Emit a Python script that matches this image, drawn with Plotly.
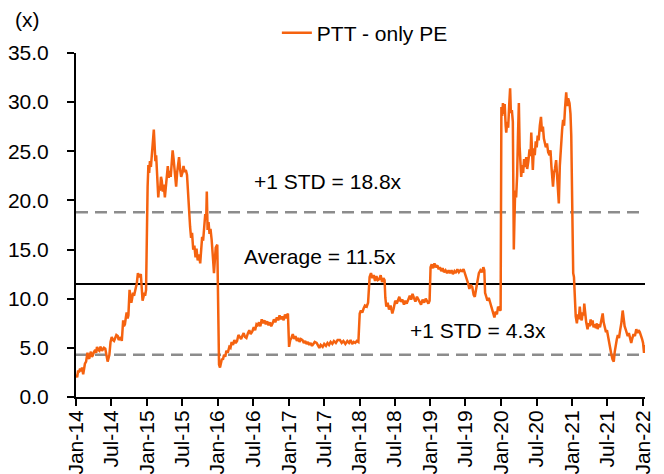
import plotly.graph_objects as go

# ---------------- data ----------------
dates_2014 = ["2014-01-02","2014-01-07","2014-01-12","2014-01-16","2014-01-22","2014-01-27","2014-02-01","2014-02-07","2014-02-12","2014-02-16","2014-02-22","2014-03-01","2014-03-06","2014-03-10","2014-03-15","2014-03-19","2014-03-24","2014-03-28","2014-04-04","2014-04-10","2014-04-15","2014-04-19","2014-04-25","2014-05-01","2014-05-06","2014-05-10","2014-05-15","2014-05-19","2014-05-25","2014-06-01","2014-06-07","2014-06-13","2014-06-17","2014-06-22","2014-06-28","2014-07-04","2014-07-10","2014-07-16","2014-07-22","2014-07-28","2014-08-04","2014-08-09","2014-08-13","2014-08-19","2014-08-25","2014-09-01","2014-09-05","2014-09-10","2014-09-15","2014-09-19","2014-09-24","2014-09-28","2014-10-04","2014-10-09","2014-10-13","2014-10-16","2014-10-22","2014-10-27","2014-11-01","2014-11-06","2014-11-10","2014-11-16","2014-11-21","2014-11-25","2014-12-01","2014-12-04","2014-12-07","2014-12-10","2014-12-15","2014-12-19","2014-12-23","2014-12-28"]
pe_2014 = [2.3,2.0,2.7,2.5,2.9,2.6,3.0,2.3,2.9,3.4,3.6,4.5,4.0,3.9,4.4,4.6,4.1,4.2,4.6,4.8,4.5,5.1,4.8,4.7,5.1,5.0,4.7,4.8,5.0,4.9,4.2,3.6,3.9,4.3,5.6,6.1,5.8,5.7,6.0,6.3,6.2,5.8,5.9,6.1,5.7,7.8,7.2,7.4,8.1,8.6,8.0,8.3,10.9,10.2,9.6,9.9,10.6,10.3,10.9,11.2,11.5,12.6,12.2,12.3,12.5,11.6,10.5,9.8,10.2,10.6,10.3,10.9]

dates_2015 = ["2015-01-05","2015-01-09","2015-01-13","2015-01-17","2015-01-22","2015-01-27","2015-02-01","2015-02-06","2015-02-10","2015-02-14","2015-02-18","2015-02-22","2015-03-01","2015-03-05","2015-03-10","2015-03-15","2015-03-19","2015-03-24","2015-03-29","2015-04-04","2015-04-09","2015-04-14","2015-04-19","2015-04-24","2015-04-29","2015-05-04","2015-05-09","2015-05-14","2015-05-19","2015-05-25","2015-06-01","2015-06-06","2015-06-11","2015-06-16","2015-06-21","2015-06-27","2015-07-03","2015-07-09","2015-07-15","2015-07-21","2015-07-27","2015-08-02","2015-08-07","2015-08-12","2015-08-17","2015-08-22","2015-08-28","2015-09-03","2015-09-09","2015-09-14","2015-09-20","2015-09-27","2015-10-03","2015-10-08","2015-10-13","2015-10-18","2015-10-24","2015-10-29","2015-11-03","2015-11-06","2015-11-10","2015-11-15","2015-11-20","2015-11-25","2015-12-01","2015-12-05","2015-12-09","2015-12-13","2015-12-17","2015-12-22","2015-12-30"]
pe_2015 = [21.4,23.6,22.8,24.0,23.4,24.8,25.3,27.2,25.6,24.0,24.6,22.2,20.3,21.4,21.0,22.4,22.0,20.9,21.6,20.3,21.2,22.6,23.5,22.3,23.0,22.4,23.8,25.1,24.2,22.5,21.4,22.8,23.9,24.4,23.2,22.4,22.8,23.5,22.9,23.1,22.6,20.0,19.2,17.3,16.2,16.7,15.0,15.4,14.2,15.1,13.9,14.5,13.6,14.8,16.3,15.9,17.4,18.6,18.2,20.9,17.0,17.8,16.6,17.1,16.0,15.2,13.8,12.6,14.0,15.2,15.5]

dates_2016 = ["2016-01-04","2016-01-08","2016-01-13","2016-01-18","2016-01-23","2016-01-28","2016-02-03","2016-02-09","2016-02-15","2016-02-22","2016-03-01","2016-03-07","2016-03-13","2016-03-20","2016-03-27","2016-04-03","2016-04-10","2016-04-17","2016-04-24","2016-05-01","2016-05-07","2016-05-14","2016-05-21","2016-05-28","2016-06-05","2016-06-12","2016-06-19","2016-06-28","2016-07-05","2016-07-12","2016-07-19","2016-07-25","2016-08-01","2016-08-08","2016-08-15","2016-08-22","2016-08-29","2016-09-05","2016-09-12","2016-09-19","2016-09-26","2016-10-03","2016-10-10","2016-10-17","2016-10-24","2016-11-01","2016-11-08","2016-11-15","2016-11-22","2016-11-29","2016-12-06","2016-12-13","2016-12-20","2016-12-28"]
pe_2016 = [3.8,3.3,3.0,3.4,3.9,3.8,4.3,4.1,4.7,4.5,5.1,5.0,5.6,5.3,5.8,5.5,5.7,6.3,6.1,5.9,6.2,6.5,6.1,6.0,6.5,6.8,6.4,6.7,7.1,6.8,7.4,7.3,7.6,7.2,7.9,7.5,7.8,7.4,7.7,7.3,7.6,7.2,7.5,7.9,7.6,8.1,7.8,8.3,7.9,8.2,7.8,8.4,8.0,8.5]

dates_2017 = ["2017-01-03","2017-01-09","2017-01-15","2017-01-22","2017-01-29","2017-02-05","2017-02-12","2017-02-19","2017-02-26","2017-03-05","2017-03-13","2017-03-20","2017-03-27","2017-04-03","2017-04-10","2017-04-17","2017-04-24","2017-05-01","2017-05-08","2017-05-15","2017-05-25","2017-06-01","2017-06-08","2017-06-15","2017-06-25","2017-07-03","2017-07-12","2017-07-20","2017-07-28","2017-08-05","2017-08-14","2017-08-22","2017-09-01","2017-09-10","2017-09-22","2017-10-01","2017-10-10","2017-10-20","2017-10-30","2017-11-08","2017-11-16","2017-11-24","2017-12-02","2017-12-10","2017-12-18","2017-12-26"]
pe_2017 = [5.1,5.8,6.0,6.4,5.9,6.2,5.7,6.0,5.6,5.9,5.8,5.5,5.7,5.4,5.6,5.3,5.5,5.2,5.4,5.6,5.5,5.2,5.0,5.3,5.1,5.4,5.2,5.5,5.3,5.6,5.4,5.7,5.5,5.8,5.8,5.5,5.7,5.4,5.7,5.5,5.8,5.4,5.6,5.5,5.7,5.6]

dates_2018 = ["2018-01-02","2018-01-08","2018-01-15","2018-01-22","2018-01-29","2018-02-07","2018-02-14","2018-02-22","2018-03-01","2018-03-08","2018-03-15","2018-03-22","2018-03-29","2018-04-05","2018-04-13","2018-04-20","2018-04-27","2018-05-04","2018-05-10","2018-05-14","2018-05-19","2018-05-26","2018-06-02","2018-06-10","2018-06-19","2018-06-26","2018-07-04","2018-07-12","2018-07-19","2018-07-25","2018-08-01","2018-08-10","2018-08-18","2018-08-25","2018-09-01","2018-09-09","2018-09-17","2018-09-24","2018-10-01","2018-10-08","2018-10-16","2018-10-24","2018-11-01","2018-11-07","2018-11-14","2018-11-22","2018-11-30","2018-12-08","2018-12-15","2018-12-22","2018-12-28"]
pe_2018 = [8.5,8.8,8.6,9.0,9.3,9.2,9.6,12.2,12.6,12.1,12.4,11.8,12.3,11.9,12.0,12.4,11.7,12.1,11.9,10.1,9.2,9.6,8.9,9.3,8.5,9.0,9.8,9.5,10.0,10.2,9.7,9.9,9.4,9.8,9.5,10.0,10.3,9.9,10.5,10.1,9.7,10.2,9.9,9.8,9.4,9.9,9.6,10.0,9.7,9.5,9.8]

dates_2019 = ["2019-01-02","2019-01-08","2019-01-15","2019-01-22","2019-01-29","2019-02-06","2019-02-13","2019-02-19","2019-02-26","2019-03-05","2019-03-12","2019-03-20","2019-03-28","2019-04-05","2019-04-12","2019-04-20","2019-04-27","2019-05-05","2019-05-12","2019-05-20","2019-05-28","2019-06-05","2019-06-13","2019-06-21","2019-06-29","2019-07-07","2019-07-14","2019-07-21","2019-07-28","2019-08-05","2019-08-12","2019-08-18","2019-08-25","2019-09-01","2019-09-08","2019-09-16","2019-09-24","2019-10-01","2019-10-06","2019-10-10","2019-10-15","2019-10-22","2019-10-29","2019-11-05","2019-11-12","2019-11-19","2019-11-27","2019-12-04","2019-12-10","2019-12-16","2019-12-22","2019-12-29"]
pe_2019 = [13.2,13.5,13.1,13.6,13.2,13.4,13.0,13.2,12.8,13.1,12.7,12.9,12.6,12.9,12.6,12.9,12.5,12.8,12.6,13.0,12.7,12.9,12.8,13.0,12.5,12.2,11.6,11.0,11.4,11.2,10.4,10.2,11.0,11.9,12.6,12.9,12.7,13.2,12.9,10.6,10.2,9.8,10.1,9.6,9.2,8.6,8.1,8.7,8.4,9.2,8.9,8.8]

dates_2020 = ["2020-01-02","2020-01-06","2020-01-10","2020-01-15","2020-01-19","2020-01-24","2020-01-27","2020-02-01","2020-02-06","2020-02-11","2020-02-16","2020-02-20","2020-02-25","2020-03-01","2020-03-04","2020-03-06","2020-03-09","2020-03-13","2020-03-18","2020-03-23","2020-03-28","2020-04-01","2020-04-05","2020-04-09","2020-04-13","2020-04-18","2020-04-23","2020-04-28","2020-05-03","2020-05-09","2020-05-14","2020-05-20","2020-05-26","2020-05-31","2020-06-04","2020-06-08","2020-06-12","2020-06-17","2020-06-22","2020-06-27","2020-07-02","2020-07-07","2020-07-12","2020-07-18","2020-07-24","2020-07-29","2020-08-03","2020-08-08","2020-08-12","2020-08-18","2020-08-24","2020-08-30","2020-09-06","2020-09-11","2020-09-16","2020-09-20","2020-09-24","2020-09-29","2020-10-04","2020-10-10","2020-10-15","2020-10-20","2020-10-24","2020-10-29","2020-11-03","2020-11-10","2020-11-15","2020-11-20","2020-11-25","2020-12-01","2020-12-06","2020-12-11","2020-12-18","2020-12-23","2020-12-27"]
pe_2020 = [29.5,28.6,29.9,28.8,29.8,27.6,26.9,28.0,27.4,29.6,31.4,28.9,29.2,28.0,22.0,15.0,17.8,21.0,20.3,22.5,27.0,29.9,25.5,23.0,22.4,23.6,22.8,24.2,23.4,24.4,23.2,24.0,25.2,24.5,26.9,25.0,23.1,25.3,24.6,26.0,25.4,26.6,26.1,27.6,28.5,27.0,27.5,26.3,26.0,25.4,25.8,24.9,24.6,25.1,23.4,22.6,21.4,22.8,23.2,24.1,22.5,21.0,19.7,23.5,25.4,27.2,28.2,27.6,29.4,31.0,29.6,30.4,29.9,28.8,26.6]

dates_2021 = ["2021-01-02","2021-01-06","2021-01-10","2021-01-14","2021-01-19","2021-01-25","2021-01-30","2021-02-04","2021-02-09","2021-02-14","2021-02-19","2021-02-24","2021-03-01","2021-03-04","2021-03-09","2021-03-14","2021-03-21","2021-03-26","2021-04-01","2021-04-06","2021-04-11","2021-04-16","2021-04-21","2021-04-27","2021-05-03","2021-05-08","2021-05-12","2021-05-18","2021-05-24","2021-05-30","2021-06-04","2021-06-07","2021-06-12","2021-06-18","2021-06-24","2021-06-29","2021-07-03","2021-07-09","2021-07-15","2021-07-21","2021-07-28","2021-08-03","2021-08-08","2021-08-13","2021-08-19","2021-08-24","2021-08-30","2021-09-05","2021-09-11","2021-09-18","2021-09-23","2021-09-28","2021-10-03","2021-10-08","2021-10-14","2021-10-20","2021-10-26","2021-11-01","2021-11-07","2021-11-13","2021-11-20","2021-11-27","2021-12-03","2021-12-09","2021-12-15","2021-12-21","2021-12-27","2022-01-01","2022-01-06","2022-01-11"]
pe_2021 = [13.6,12.6,12.2,10.0,8.2,7.5,8.4,7.9,9.2,8.1,7.8,8.6,8.3,9.5,8.0,7.6,6.9,7.5,7.2,7.9,7.3,7.8,7.1,7.4,7.0,7.5,6.9,7.4,7.1,7.8,8.1,8.5,7.6,7.0,6.6,6.8,6.3,5.7,5.0,4.4,3.8,3.6,4.6,5.4,5.9,6.3,6.0,6.8,7.5,8.8,7.7,7.2,6.9,6.6,6.2,6.5,5.8,5.5,6.0,6.4,6.2,6.9,6.5,6.8,6.6,6.3,5.9,5.5,4.5,5.3]

avg_pe = 11.5
std_upper = 18.8
std_lower = 4.3

tick_dates = ["2014-01-01","2014-07-01","2015-01-01","2015-07-01","2016-01-01","2016-07-01",
              "2017-01-01","2017-07-01","2018-01-01","2018-07-01","2019-01-01","2019-07-01",
              "2020-01-01","2020-07-01","2021-01-01","2021-07-01","2022-01-01"]
tick_labels = ["Jan-14","Jul-14","Jan-15","Jul-15","Jan-16","Jul-16","Jan-17","Jul-17",
               "Jan-18","Jul-18","Jan-19","Jul-19","Jan-20","Jul-20","Jan-21","Jul-21","Jan-22"]

series_name = "PTT - only PE"

# ---------------- figure ----------------
dates = dates_2014 + dates_2015 + dates_2016 + dates_2017 + dates_2018 + dates_2019 + dates_2020 + dates_2021
pe = pe_2014 + pe_2015 + pe_2016 + pe_2017 + pe_2018 + pe_2019 + pe_2020 + pe_2021

FONT = "Liberation Sans, Arial, sans-serif"
ORANGE = "#F5620F"

fig = go.Figure()
fig.add_trace(go.Scatter(x=dates, y=pe, mode="lines", name=series_name,
                         line=dict(color=ORANGE, width=2.5)))

for yv, col, dash, w in [(std_upper, "#8C8C8C", "12px,7px", 2.5),
                         (std_lower, "#8C8C8C", "12px,7px", 2.5),
                         (avg_pe, "#000000", "solid", 2)]:
    fig.add_shape(type="line", xref="paper", x0=0, x1=1, yref="y", y0=yv, y1=yv,
                  line=dict(color=col, width=w, dash=dash), layer="below")

fig.add_annotation(x="2017-07-25", y=21.9, text=f"+1 STD = {std_upper}x", showarrow=False,
                   font=dict(size=21, color="black", family=FONT))
fig.add_annotation(x="2017-06-10", y=14.3, text=f"Average = {avg_pe}x", showarrow=False,
                   font=dict(size=21, color="black", family=FONT))
fig.add_annotation(x="2019-09-04", y=6.8, text=f"+1 STD = {std_lower}x", showarrow=False,
                   font=dict(size=21, color="black", family=FONT))
fig.add_annotation(xref="paper", yref="paper", x=-0.086, y=1.097, text="(x)", showarrow=False,
                   xanchor="center", yanchor="middle", font=dict(size=21, color="black", family=FONT))

# the page body keeps its default 8px margin, so the figure is sized to fit the window
fig.update_layout(
    width=656, height=466,
    margin=dict(l=68, r=19, t=45, b=77, autoexpand=False),
    paper_bgcolor="white", plot_bgcolor="white",
    font=dict(family=FONT, size=21, color="black"),
    showlegend=True,
    legend=dict(orientation="h", x=0.353, xanchor="left", y=1.058, yanchor="middle",
                font=dict(size=21, family=FONT), bgcolor="rgba(0,0,0,0)"),
    xaxis=dict(type="date", range=["2014-01-01", "2022-01-11"], automargin=False,
               tickmode="array", tickvals=tick_dates, ticktext=tick_labels,
               tickangle=-90, ticks="outside", ticklen=7, tickwidth=2, tickcolor="black",
               showline=True, linecolor="black", linewidth=2, showgrid=False, zeroline=False,
               ticklabelstandoff=-4,
               tickfont=dict(size=21, family=FONT, color="black")),
    yaxis=dict(range=[0, 35], tickmode="linear", tick0=0, dtick=5, tickformat=".1f",
               automargin=False,
               ticks="outside", ticklen=7, tickwidth=2, tickcolor="black",
               showline=True, linecolor="black", linewidth=2, showgrid=False, zeroline=False,
               ticklabelstandoff=14,
               tickfont=dict(size=21, family=FONT, color="black")),
)

fig.write_html("out.html")
